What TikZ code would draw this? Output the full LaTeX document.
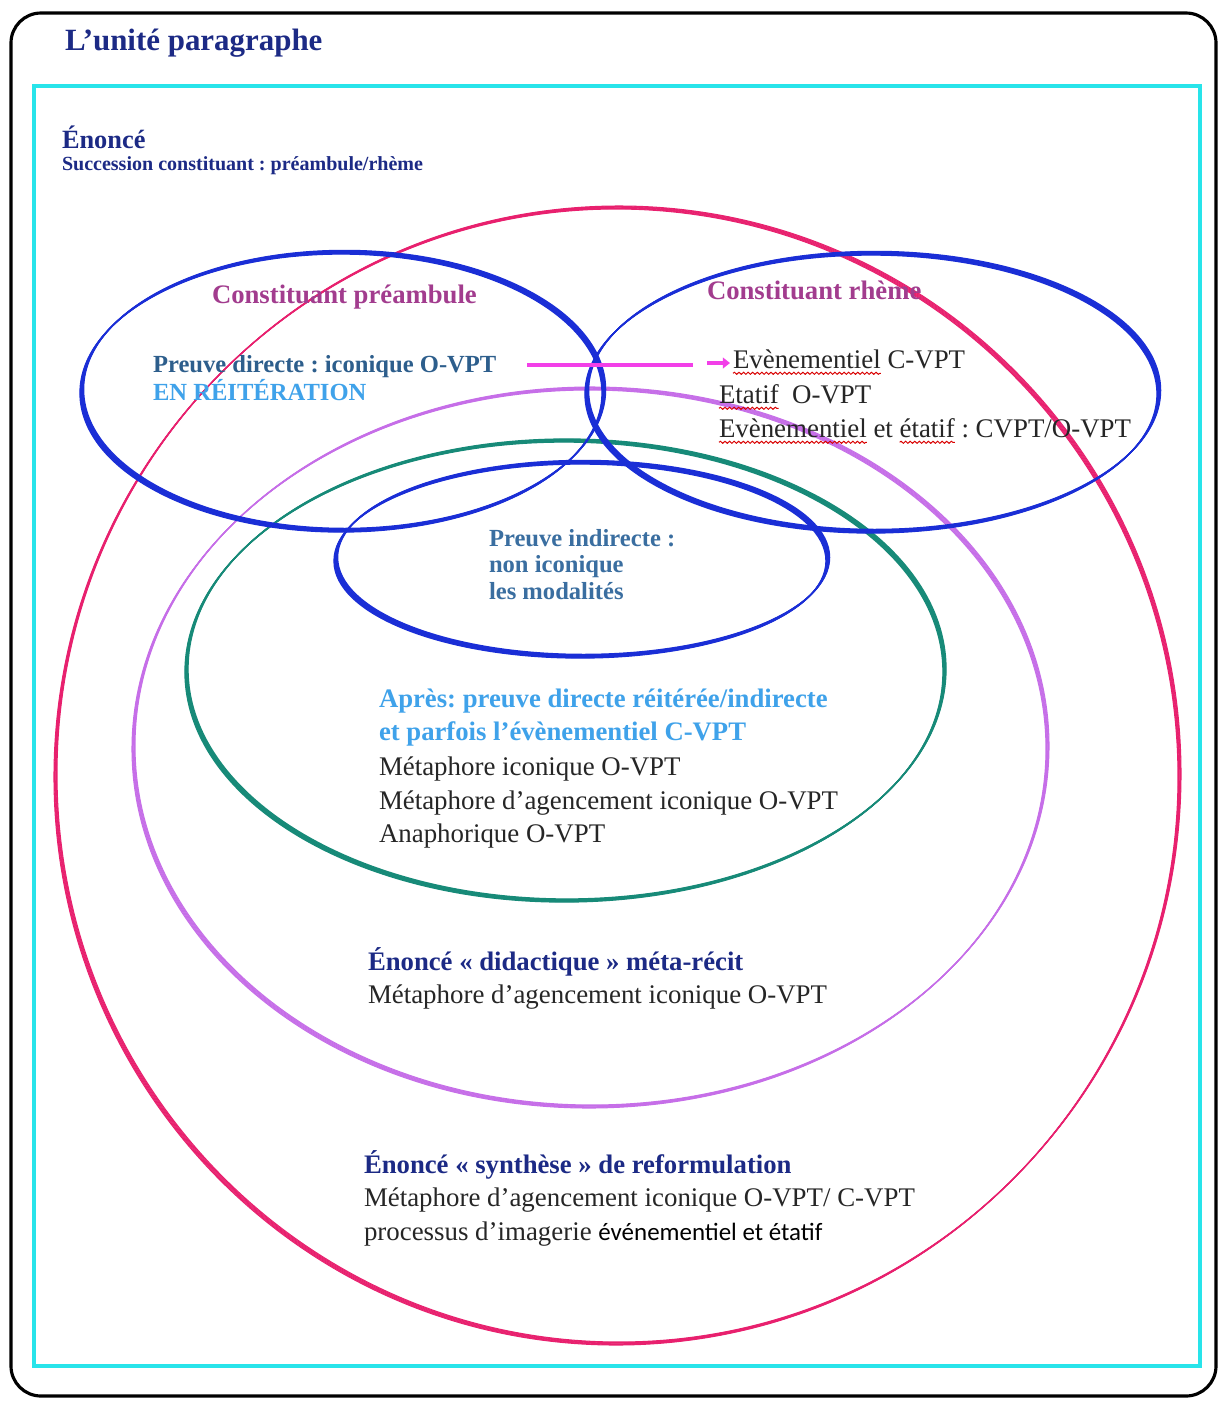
\documentclass[tikz,border=0pt]{standalone}
\usepackage{fontspec}
\setmainfont{Liberation Serif}
\newfontfamily\calibfont{Carlito}
\frenchspacing
\usetikzlibrary{arrows.meta,decorations.pathmorphing}
\definecolor{navy}{HTML}{1C2A85}
\definecolor{mauve}{HTML}{A23C8E}
\definecolor{steelb}{HTML}{2D5E8C}
\definecolor{steelc}{HTML}{3A6EA0}
\definecolor{lightb}{HTML}{3FA2EA}
\definecolor{bodyk}{HTML}{262626}
\definecolor{ellblue}{HTML}{1A2ED6}
\definecolor{ellpink}{HTML}{E8206E}
\definecolor{ellviolet}{HTML}{C66EE8}
\definecolor{ellteal}{HTML}{178A78}
\definecolor{magline}{HTML}{F23FE8}
\definecolor{framecyan}{HTML}{28E4EA}
\newcommand\callEll[6]{%
  \foreach \k in {0,...,#5}{\draw[#1] ([shift={(#6*\k,-#6*\k)}]#2) ellipse [x radius=#3, y radius=#4];}}
\tikzset{
  txt/.style={anchor=base west, inner sep=0pt, outer sep=0pt, text=bodyk, font=\fontsize{15.3}{19}\selectfont},
  btxt/.style={txt, font=\fontsize{15.2}{19}\selectfont\bfseries},
  stxt/.style={txt, font=\fontsize{14}{17}\selectfont\bfseries},
  bluering/.style={draw=ellblue, line width=0.75pt},
  pinkring/.style={draw=ellpink, line width=0.6pt},
  violetring/.style={draw=ellviolet, line width=0.6pt},
  tealring/.style={draw=ellteal, line width=0.75pt},
  magconn/.style={draw=magline, line width=2.6pt},
  magtip/.style={draw=magline, line width=2.4pt, -{Triangle[length=4pt,width=6pt]}},
  squig/.style={draw=red!85!black, line width=0.55pt, decorate, decoration={snake, amplitude=0.6pt, segment length=2.6pt}},
}
\begin{document}
\begin{tikzpicture}[x=0.02cm,y=-0.02cm]
\useasboundingbox (0,0) rectangle (1219,1401);
\fill[white] (0,0) rectangle (1219,1401);
% frames
\draw[black, line width=1.8pt, rounded corners=0.6cm] (11,13) rectangle (1216,1396);
\draw[framecyan, line width=2.8pt] (34,86) rectangle (1200,1366);
% ellipse centres
\coordinate (cPink) at (616,777);
\coordinate (cViolet) at (589,749);
\coordinate (cTeal) at (564,672);
\coordinate (cPre) at (341,393);
\coordinate (cRhe) at (871,394);
\coordinate (cMod) at (580,561);
% ellipses
\callEll{pinkring}{cPink}{562}{568}{5}{0.6}
\callEll{violetring}{cViolet}{457}{359}{5}{0.6}
\callEll{tealring}{cTeal}{379}{230}{5}{0.6}
\callEll{bluering}{cPre}{261}{139}{6}{0.6}
\callEll{bluering}{cRhe}{286}{139}{6}{0.6}
\callEll{bluering}{cMod}{246}{97}{6}{0.6}
% title texts
\node[txt, text=navy, font=\fontsize{17.6}{21}\selectfont\bfseries] (title) at (65,50) {L’unité paragraphe};
\node[txt, text=navy, font=\fontsize{15}{18}\selectfont\bfseries] (enonce) at (62,148) {Énoncé};
\node[txt, text=navy, font=\fontsize{11.4}{14}\selectfont\bfseries] (succ) at (62,170) {Succession constituant : préambule/rhème};
% preambule
\node[btxt, text=mauve] (cpre) at (212,303) {Constituant préambule};
\node[stxt, text=steelb] (pdir) at (153,372) {Preuve directe : iconique O-VPT};
\node[stxt, text=lightb] (reit) at (153,400) {EN RÉITÉRATION};
% rheme
\node[btxt, text=mauve] (crhe) at (707,299) {Constituant rhème};
\node[txt] (ev1) at (733,368) {Evènementiel};
\node[txt] (ev1b) at (ev1.base east) {\ C-VPT};
\node[txt] (eta) at (719,403) {Etatif};
\node[txt] (etab) at (eta.base east) {\ \ O-VPT};
\node[txt] (ev2) at (719,437) {Evènementiel};
\node[txt] (ev2b) at (ev2.base east) {\ et\ \null};
\node[txt] (eta2) at (ev2b.base east) {étatif};
\node[txt] (ev2c) at (eta2.base east) {\ : CVPT/O-VPT};
\draw[squig] ([yshift=-3pt]ev1.base west) -- ([yshift=-3pt]ev1.base east);
\draw[squig] ([yshift=-3pt]eta.base west) -- ([yshift=-3pt]eta.base east);
\draw[squig] ([yshift=-3pt]ev2.base west) -- ([yshift=-3pt]ev2.base east);
\draw[squig] ([yshift=-3pt]eta2.base west) -- ([yshift=-3pt]eta2.base east);
% connector preambule -> rheme
\coordinate (mA) at (527,365);
\coordinate (mB) at (693,365);
\coordinate (mC) at (707,363);
\coordinate (mD) at (730,363);
\draw[magconn] (mA) -- (mB);
\draw[magtip] (mC) -- (mD);
% modalites
\node[stxt, text=steelc] (pind1) at (489,546) {Preuve indirecte :};
\node[stxt, text=steelc] (pind2) at (489,572) {non iconique};
\node[stxt, text=steelc] (pind3) at (489,599) {les modalités};
% teal ellipse texts
\node[btxt, text=lightb] (apr1) at (379,707) {Après: preuve directe réitérée/indirecte};
\node[btxt, text=lightb] (apr2) at (379,740) {et parfois l’évènementiel C-VPT};
\node[txt] (met1) at (379,775) {Métaphore iconique O-VPT};
\node[txt] (met2) at (379,809) {Métaphore d’agencement iconique O-VPT};
\node[txt] (ana) at (379,842) {Anaphorique O-VPT};
% violet
\node[btxt, text=navy] (did) at (368,970) {Énoncé « didactique » méta-récit};
\node[txt] (did2) at (368,1003) {Métaphore d’agencement iconique O-VPT};
% pink
\node[btxt, text=navy] (syn) at (364,1173) {Énoncé « synthèse » de reformulation};
\node[txt] (syn2) at (364,1206) {Métaphore d’agencement iconique O-VPT/ C-VPT};
\node[txt] (syn3) at (364,1240) {processus d’imagerie {\calibfont\fontsize{14.2}{18}\selectfont\color{black} événementiel et étatif}};
\end{tikzpicture}
\end{document}
